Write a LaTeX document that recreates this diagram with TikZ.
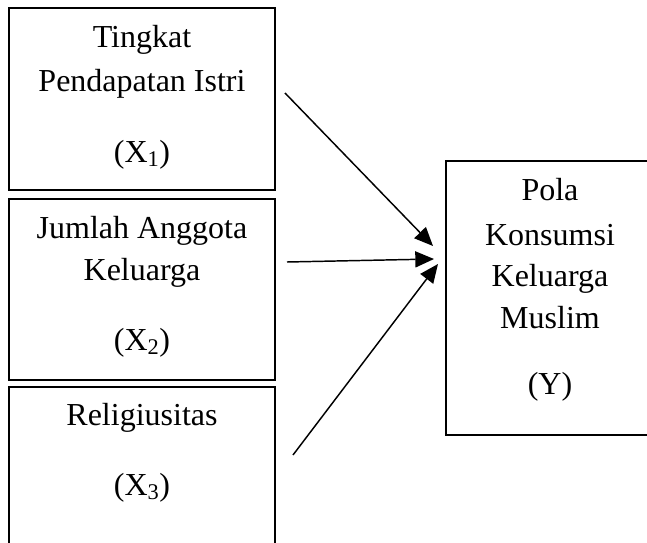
\documentclass[tikz,border=0pt]{standalone}
\usepackage{fontspec}
\setmainfont{Liberation Serif}
\usetikzlibrary{arrows.meta,positioning}
\tikzset{x=0.75pt, y=-0.75pt, % one unit is one pixel of the reference
        varbox/.style={ % Sets the properties for each variable box
            draw,
            line width=1.4pt,
            inner sep=0pt},
        txt/.style={ % Text lines inside the boxes
            font=\fontsize{24}{28}\selectfont,
            inner sep=0pt,
            anchor=base},
        every edge/.style={ % Sets the properties for each arrow
            draw,
            -{Triangle[length=14pt,width=12pt]},
            line width=1.1pt}
        }

\begin{document}
\begin{tikzpicture}
    \useasboundingbox (0,0) rectangle (647,543);
    \clip (0,0) rectangle (647,543);

    % boxes
    \node[varbox, minimum width=199.5pt, minimum height=136.5pt] (x1) at (142,99) {};
    \node[varbox, minimum width=199.5pt, minimum height=135.75pt] (x2) at (142,289.5) {};
    \node[varbox, minimum width=199.5pt, minimum height=137.25pt] (x3) at (142,478.5) {};
    \node[varbox, minimum width=190.5pt, minimum height=205.5pt] (y) at (573,298) {};

    % texts
    \node[txt] (t1a) at (142,47) {Tingkat};
    \node[txt] (t1b) at (142,91) {Pendapatan Istri};
    \node[txt] (t1c) at (142,162) {(X\textsubscript{1})};
    \node[txt] (t2a) at (142,238) {Jumlah Anggota};
    \node[txt] (t2b) at (142,280) {Keluarga};
    \node[txt] (t2c) at (142,350) {(X\textsubscript{2})};
    \node[txt] (t3a) at (142,425) {Religiusitas};
    \node[txt] (t3b) at (142,495) {(X\textsubscript{3})};
    \node[txt] (tya) at (550,200) {Pola};
    \node[txt] (tyb) at (550,245) {Konsumsi};
    \node[txt] (tyc) at (550,286) {Keluarga};
    \node[txt] (tyd) at (550,328) {Muslim};
    \node[txt] (tye) at (550,394) {(Y)};

    % arrow ends
    \coordinate (s1) at (285,93);
    \coordinate (e1) at (433,246);
    \coordinate (s2) at (287,262);
    \coordinate (e2) at (434,259);
    \coordinate (s3) at (293,455);
    \coordinate (e3) at (438,264);

    \draw
        (s1) edge (e1)
        (s2) edge (e2)
        (s3) edge (e3);
\end{tikzpicture}
\end{document}
